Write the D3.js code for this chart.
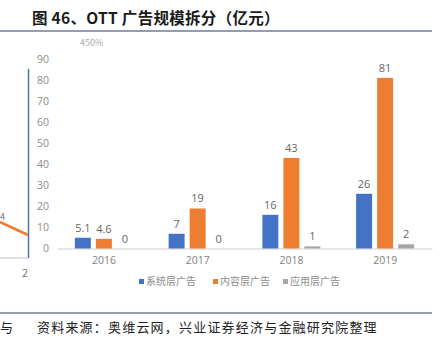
<!DOCTYPE html>
<html>
<head>
<meta charset="utf-8">
<script src="https://cdn.jsdelivr.net/npm/d3@7"></script>
<style>
  body { margin: 0; background: #fff; }
  svg { display: block; font-family: "Noto Sans CJK SC", "Noto Sans", sans-serif; }
</style>
</head>
<body>
<div class="visHolder"></div>
<script>
// chart data
var years = ['2016', '2017', '2018', '2019'];
var seriesNames = ['系统层广告', '内容层广告', '应用层广告'];
var systemAds = [5.1, 7, 16, 26];
var contentAds = [4.6, 19, 43, 81];
var appAds = [0, 0, 1, 2];
var yTicks = [0, 10, 20, 30, 40, 50, 60, 70, 80, 90];
var colors = ['#4472C4', '#ED7D31', '#A5A5A5'];

var width = 440,
  height = 347;

var svg = d3
  .select('.visHolder')
  .append('svg')
  .attr('width', width)
  .attr('height', height);

// title + rules
svg
  .append('text')
  .attr('x', 32)
  .attr('y', 24)
  .attr('font-size', 15.5)
  .attr('font-weight', 'bold')
  .attr('fill', '#1a1a1a')
  .attr('letter-spacing', 0.3)
  .text('图 46、OTT 广告规模拆分（亿元）');

svg.append('line')
  .attr('x1', 0).attr('x2', 432)
  .attr('y1', 31).attr('y2', 31)
  .attr('stroke', '#2b3a6b').attr('stroke-width', 1.2);

svg.append('line')
  .attr('x1', 0).attr('x2', 432)
  .attr('y1', 313).attr('y2', 313)
  .attr('stroke', '#2b3a6b').attr('stroke-width', 1.2);

svg
  .append('text')
  .attr('x', 0)
  .attr('y', 332)
  .attr('font-size', 13)
  .attr('fill', '#222')
  .text('与');

svg
  .append('text')
  .attr('x', 37)
  .attr('y', 332)
  .attr('font-size', 13)
  .attr('fill', '#222')
  .attr('letter-spacing', 1.2)
  .text('资料来源：奥维云网，兴业证券经济与金融研究院整理');

// piece of neighbouring chart on the left
svg.append('line')
  .attr('x1', 28.5).attr('x2', 28.5)
  .attr('y1', 69).attr('y2', 258)
  .attr('stroke', '#4472C4').attr('stroke-width', 1.5);
svg.append('line')
  .attr('x1', 0).attr('x2', 28)
  .attr('y1', 258).attr('y2', 258)
  .attr('stroke', '#bfbfbf');
svg.append('line')
  .attr('x1', 0).attr('x2', 28)
  .attr('y1', 222).attr('y2', 235)
  .attr('stroke', '#ED7D31').attr('stroke-width', 2.5);
svg.append('text')
  .attr('x', 0).attr('y', 220)
  .attr('font-size', 9).attr('fill', '#777')
  .text('4');
svg.append('text')
  .attr('x', 22).attr('y', 277)
  .attr('font-size', 11).attr('fill', '#777')
  .text('2');
svg.append('text')
  .attr('x', 80).attr('y', 46)
  .attr('font-size', 9).attr('fill', '#aaa')
  .text('450%');

// scales
var x0 = d3.scaleBand().domain(years).range([57, 432]);
var x1 = d3.scaleBand()
  .domain([0, 1, 2])
  .range([0, 58])
  .paddingInner(0.24);
var y = d3.scaleLinear().domain([0, 90]).range([248.5, 59]);

// y axis labels (no line)
var yAxis = d3.axisLeft(y).tickValues(yTicks).tickSize(0).tickPadding(0);
var yG = svg.append('g')
  .attr('transform', 'translate(49,0)')
  .call(yAxis);
yG.select('.domain').remove();
yG.selectAll('text')
  .attr('font-size', 10.5)
  .attr('fill', '#8c8c8c')
  .attr('font-family', '"Open Sans", sans-serif');

// x axis
var xAxis = d3.axisBottom(x0).tickSize(0).tickPadding(8);
var xG = svg.append('g')
  .attr('transform', 'translate(0,' + y(0) + ')')
  .call(xAxis);
xG.select('.domain').attr('stroke', '#d0d0d0');
xG.selectAll('text')
  .attr('font-size', 10.5)
  .attr('fill', '#7f7f7f')
  .attr('font-family', '"Open Sans", sans-serif');

// bars
var series = [systemAds, contentAds, appAds];
var groups = svg.selectAll('.grp')
  .data(years)
  .enter()
  .append('g')
  .attr('class', 'grp')
  .attr('transform', function (d) {
    return 'translate(' + (x0(d) + x0.bandwidth() / 2 - 29) + ',0)';
  });

groups.selectAll('rect')
  .data(function (d, i) {
    return series.map(function (s, k) { return { k: k, v: s[i] }; });
  })
  .enter()
  .append('rect')
  .attr('x', function (d) { return x1(d.k); })
  .attr('y', function (d) { return y(d.v); })
  .attr('width', x1.bandwidth())
  .attr('height', function (d) { return y(0) - y(d.v); })
  .attr('fill', function (d) { return colors[d.k]; });

groups.selectAll('.lbl')
  .data(function (d, i) {
    return series.map(function (s, k) { return { k: k, v: s[i] }; });
  })
  .enter()
  .append('text')
  .attr('class', 'lbl')
  .attr('x', function (d) { return x1(d.k) + x1.bandwidth() / 2; })
  .attr('y', function (d) { return y(d.v) - 6; })
  .attr('text-anchor', 'middle')
  .attr('font-size', 11)
  .attr('fill', '#666')
  .attr('font-family', '"Open Sans", sans-serif')
  .text(function (d) { return d.v; });

// legend
var legendX = [139, 213, 283];
var legend = svg.selectAll('.leg')
  .data(seriesNames)
  .enter()
  .append('g')
  .attr('class', 'leg')
  .attr('transform', function (d, i) { return 'translate(' + legendX[i] + ',279)'; });
legend.append('rect')
  .attr('width', 5).attr('height', 5)
  .attr('fill', function (d, i) { return colors[i]; });
legend.append('text')
  .attr('x', 7).attr('y', 6)
  .attr('font-size', 10)
  .attr('fill', '#8c8c8c')
  .text(function (d) { return d; });
</script>
</body>
</html>
